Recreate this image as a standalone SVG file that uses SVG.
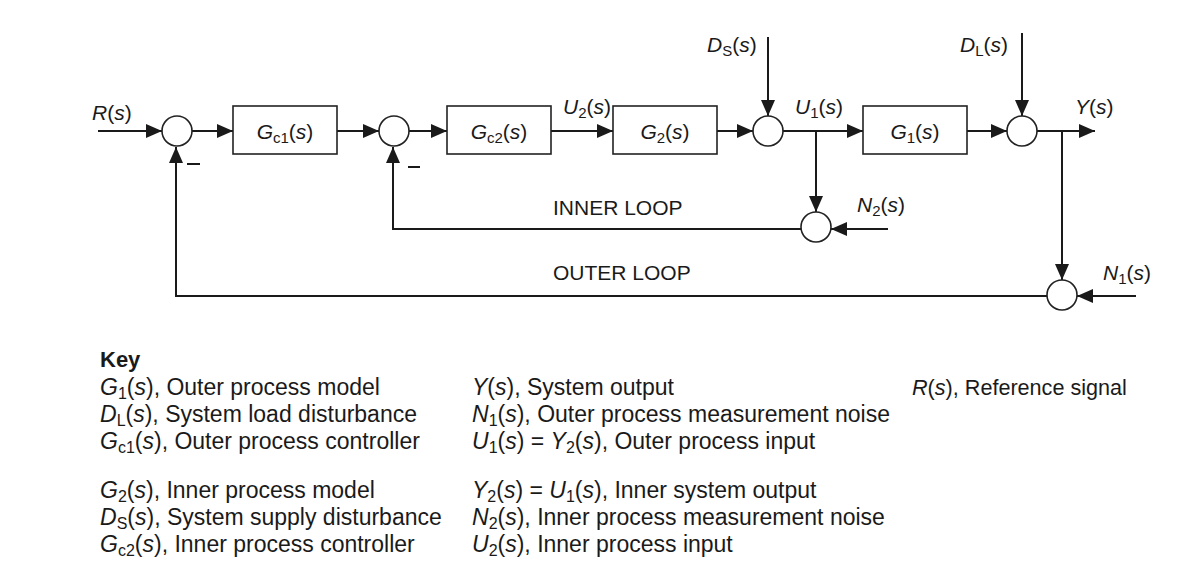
<svg xmlns="http://www.w3.org/2000/svg" width="1178" height="564" viewBox="0 0 1178 564">
<style>
.t{font-family:"Liberation Sans",Arial,sans-serif;font-size:21px;fill:#1a1a1a}
.k{font-family:"Liberation Sans",Arial,sans-serif;font-size:23px;fill:#1a1a1a}
.i{font-style:italic}
.sub{font-size:15px}
.ksub{font-size:16px}
.box{fill:#fff;stroke:#222;stroke-width:1.6}
.sum{fill:#fff;stroke:#222;stroke-width:1.6}
.ln{fill:none;stroke:#1a1a1a;stroke-width:2}
.arr{fill:none;stroke:#1a1a1a;stroke-width:2;marker-end:url(#ah)}
</style>
<defs>
<marker id="ah" markerUnits="userSpaceOnUse" markerWidth="17" markerHeight="15" refX="16" refY="7" orient="auto">
<path d="M0,0 L16,7 L0,14 z" fill="#1a1a1a"/>
</marker>
</defs>
<rect width="1178" height="564" fill="#fff"/>

<g id="connectors">
<path class="arr" d="M98,131 H162"/>
<path class="arr" d="M192,131 H233"/>
<path class="arr" d="M337,131 H379"/>
<path class="arr" d="M409,131 H447"/>
<path class="arr" d="M551,131 H613"/>
<path class="arr" d="M717,131 H753"/>
<path class="arr" d="M783,131 H863"/>
<path class="arr" d="M816,131 V212"/>
<path class="arr" d="M888,229 H831"/>
<path class="arr" d="M801,229 H393 V147"/>
<path class="arr" d="M768,37 V116"/>
<path class="arr" d="M967,131 H1007"/>
<path class="arr" d="M1022,33 V116"/>
<path class="arr" d="M1037,131 H1095"/>
<path class="arr" d="M1062,131 V280"/>
<path class="arr" d="M1136,296 H1077"/>
<path class="arr" d="M1047,296 H176 V147"/>
<path class="ln" d="M187,164 H200"/>
<path class="ln" d="M408,167 H420"/>
</g>

<g id="sum1"><circle class="sum" cx="177" cy="131" r="15"/></g>
<g id="sum2"><circle class="sum" cx="394" cy="131" r="15"/></g>
<g id="sum3"><circle class="sum" cx="768" cy="131" r="15"/></g>
<g id="sum4"><circle class="sum" cx="1022" cy="131" r="15"/></g>
<g id="sumN2"><circle class="sum" cx="816" cy="227" r="15"/></g>
<g id="sumN1"><circle class="sum" cx="1062" cy="295" r="15"/></g>

<g id="Gc1"><rect class="box" x="233" y="106" width="104" height="48"/>
<text class="t" x="285" y="139" text-anchor="middle"><tspan class="i">G</tspan><tspan class="sub" dy="4">c1</tspan><tspan dy="-4">(</tspan><tspan class="i">s</tspan>)</text></g>
<g id="Gc2"><rect class="box" x="447" y="106" width="104" height="48"/>
<text class="t" x="499" y="139" text-anchor="middle"><tspan class="i">G</tspan><tspan class="sub" dy="4">c2</tspan><tspan dy="-4">(</tspan><tspan class="i">s</tspan>)</text></g>
<g id="G2"><rect class="box" x="613" y="106" width="104" height="48"/>
<text class="t" x="665" y="139" text-anchor="middle"><tspan class="i">G</tspan><tspan class="sub" dy="4">2</tspan><tspan dy="-4">(</tspan><tspan class="i">s</tspan>)</text></g>
<g id="G1"><rect class="box" x="863" y="106" width="104" height="48"/>
<text class="t" x="915" y="139" text-anchor="middle"><tspan class="i">G</tspan><tspan class="sub" dy="4">1</tspan><tspan dy="-4">(</tspan><tspan class="i">s</tspan>)</text></g>

<g id="labels">
<text class="t" x="92" y="120"><tspan class="i">R</tspan>(<tspan class="i">s</tspan>)</text>
<text class="t" x="563" y="114"><tspan class="i">U</tspan><tspan class="sub" dy="4">2</tspan><tspan dy="-4">(</tspan><tspan class="i">s</tspan>)</text>
<text class="t" x="707" y="52"><tspan class="i">D</tspan><tspan class="sub" dy="4">S</tspan><tspan dy="-4">(</tspan><tspan class="i">s</tspan>)</text>
<text class="t" x="795" y="114"><tspan class="i">U</tspan><tspan class="sub" dy="4">1</tspan><tspan dy="-4">(</tspan><tspan class="i">s</tspan>)</text>
<text class="t" x="960" y="52"><tspan class="i">D</tspan><tspan class="sub" dy="4">L</tspan><tspan dy="-4">(</tspan><tspan class="i">s</tspan>)</text>
<text class="t" x="1075" y="114"><tspan class="i">Y</tspan>(<tspan class="i">s</tspan>)</text>
<text class="t" x="857" y="212"><tspan class="i">N</tspan><tspan class="sub" dy="4">2</tspan><tspan dy="-4">(</tspan><tspan class="i">s</tspan>)</text>
<text class="t" x="1103" y="280"><tspan class="i">N</tspan><tspan class="sub" dy="4">1</tspan><tspan dy="-4">(</tspan><tspan class="i">s</tspan>)</text>
<text class="t" x="553" y="215">INNER LOOP</text>
<text class="t" x="553" y="280">OUTER LOOP</text>
</g>

<g id="key">
<text class="k" x="100" y="367" style="font-weight:bold;font-size:22px">Key</text>
<text class="k" x="100" y="395"><tspan class="i">G</tspan><tspan class="ksub" dy="4">1</tspan><tspan dy="-4">(</tspan><tspan class="i">s</tspan>), Outer process model</text>
<text class="k" x="100" y="422"><tspan class="i">D</tspan><tspan class="ksub" dy="4">L</tspan><tspan dy="-4">(</tspan><tspan class="i">s</tspan>), System load disturbance</text>
<text class="k" x="100" y="449"><tspan class="i">G</tspan><tspan class="ksub" dy="4">c1</tspan><tspan dy="-4">(</tspan><tspan class="i">s</tspan>), Outer process controller</text>
<text class="k" x="100" y="498"><tspan class="i">G</tspan><tspan class="ksub" dy="4">2</tspan><tspan dy="-4">(</tspan><tspan class="i">s</tspan>), Inner process model</text>
<text class="k" x="100" y="525"><tspan class="i">D</tspan><tspan class="ksub" dy="4">S</tspan><tspan dy="-4">(</tspan><tspan class="i">s</tspan>), System supply disturbance</text>
<text class="k" x="100" y="552"><tspan class="i">G</tspan><tspan class="ksub" dy="4">c2</tspan><tspan dy="-4">(</tspan><tspan class="i">s</tspan>), Inner process controller</text>

<text class="k" x="472" y="395"><tspan class="i">Y</tspan>(<tspan class="i">s</tspan>), System output</text>
<text class="k" x="472" y="422"><tspan class="i">N</tspan><tspan class="ksub" dy="4">1</tspan><tspan dy="-4">(</tspan><tspan class="i">s</tspan>), Outer process measurement noise</text>
<text class="k" x="472" y="449"><tspan class="i">U</tspan><tspan class="ksub" dy="4">1</tspan><tspan dy="-4">(</tspan><tspan class="i">s</tspan>) = <tspan class="i">Y</tspan><tspan class="ksub" dy="4">2</tspan><tspan dy="-4">(</tspan><tspan class="i">s</tspan>), Outer process input</text>
<text class="k" x="472" y="498"><tspan class="i">Y</tspan><tspan class="ksub" dy="4">2</tspan><tspan dy="-4">(</tspan><tspan class="i">s</tspan>) = <tspan class="i">U</tspan><tspan class="ksub" dy="4">1</tspan><tspan dy="-4">(</tspan><tspan class="i">s</tspan>), Inner system output</text>
<text class="k" x="472" y="525"><tspan class="i">N</tspan><tspan class="ksub" dy="4">2</tspan><tspan dy="-4">(</tspan><tspan class="i">s</tspan>), Inner process measurement noise</text>
<text class="k" x="472" y="552"><tspan class="i">U</tspan><tspan class="ksub" dy="4">2</tspan><tspan dy="-4">(</tspan><tspan class="i">s</tspan>), Inner process input</text>

<text class="k" x="912" y="395" style="font-size:21.6px"><tspan class="i">R</tspan>(<tspan class="i">s</tspan>), Reference signal</text>
</g>
</svg>
